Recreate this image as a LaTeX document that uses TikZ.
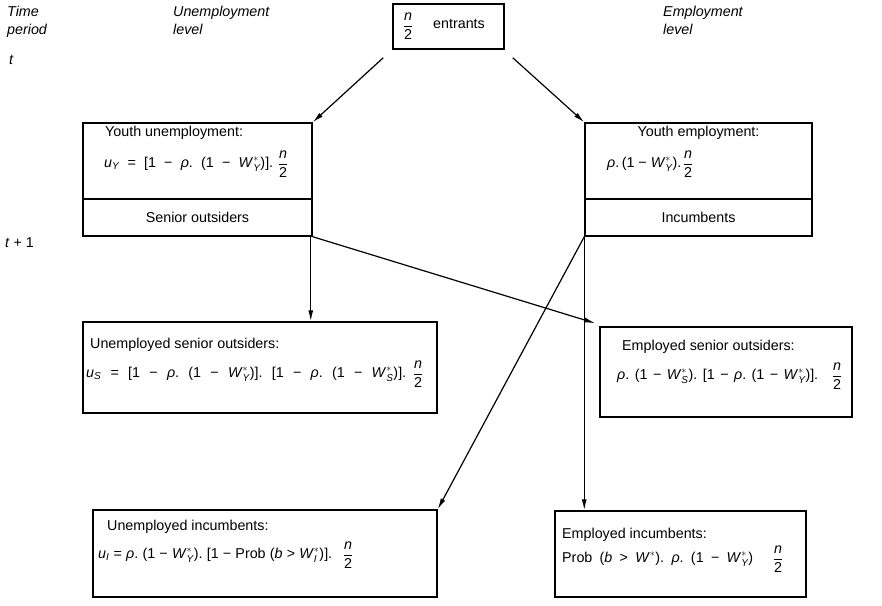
\documentclass[tikz,border=0pt]{standalone}
\usepackage{fontspec}
\setmainfont{Liberation Sans}
\usepackage{amsmath}
\usetikzlibrary{arrows.meta,calc}
\frenchspacing
\newcommand{\vi}[1]{\text{\itshape #1}}
\newcommand{\hf}{$\dfrac{\vi{n}}{\text{2}}$}
\newcommand{\Ws}[1]{\textit{W}$^{*}_{\vi{#1}}$}
\newcommand{\spread}[2]{\makebox[#1pt][s]{#2}}
\begin{document}
\begin{tikzpicture}[x=1pt,y=-1pt,
  font=\fontsize{14.3}{16}\selectfont\frenchspacing,
  box/.style={draw, line width=1.5pt, inner sep=0pt},
  txt/.style={inner sep=0pt, anchor=west},
  ctxt/.style={inner sep=0pt},
  lab/.style={inner sep=0pt, anchor=west, align=left, font=\fontsize{14.3}{18}\selectfont\itshape},
  conn/.style={line width=1.2pt, -{Latex[length=11pt,width=5pt]}}]
\useasboundingbox (0,0) rectangle (882,605);

% column labels
\node[lab, anchor=north west] (tp) at (7,6) {Time\\period};
\node[lab] (t0) at (9,60) {t};
\node[lab, anchor=north west] (ul) at (173,6) {Unemployment\\level};
\node[lab, anchor=north west] (el) at (663,6) {Employment\\level};
\node[lab, font=\fontsize{14.3}{16}\selectfont] (t1) at (5,243) {\textit{t} + 1};

% boxes
\node[box, minimum width=111pt, minimum height=45pt] (ent) at (448.5,26.5) {};
\node[box, minimum width=229pt, minimum height=76pt] (yu) at (197.5,161) {};
\node[box, minimum width=229pt, minimum height=37pt] (so) at (197.5,217.5) {};
\node[box, minimum width=227pt, minimum height=76pt] (ye) at (698.5,161) {};
\node[box, minimum width=227pt, minimum height=37pt] (inc) at (698.5,217.5) {};
\node[box, minimum width=354pt, minimum height=91pt] (uso) at (260,367.5) {};
\node[box, minimum width=252pt, minimum height=90pt] (eso) at (726,372) {};
\node[box, minimum width=344pt, minimum height=87pt] (ui) at (265,553.5) {};
\node[box, minimum width=251pt, minimum height=86pt] (ei) at (680.5,554) {};

% texts
\node[ctxt] (entF) at (408,26) {\hf};
\node[ctxt] (entT) at (459,24) {entrants};

\node[txt] (yuA) at (105,133) {Youth unemployment:};
\node[txt] (yuB) at (104,164) {\spread{169}{\textit{u}$_{\vi{Y}}$ = [1 − \textit{ρ}. (1 − \Ws{Y})].}};
\node[ctxt] (yuF) at (283,164) {\hf};
\node[ctxt] (soT) at (so.center) {Senior outsiders};

\node[ctxt] (yeA) at (698.5,133) {Youth employment:};
\node[txt] (yeB) at (607,164) {\textit{ρ}.\,(1 − \Ws{Y}).};
\node[ctxt] (yeF) at (688,164) {\hf};
\node[ctxt] (incT) at (inc.center) {Incumbents};

\node[txt] (usoA) at (90,345) {Unemployed senior outsiders:};
\node[txt] (usoB) at (86,374) {\spread{320}{\textit{u}$_{\vi{S}}$ = [1 − \textit{ρ}. (1 − \Ws{Y})]. [1 − \textit{ρ}. (1 − \Ws{S})].}};
\node[ctxt] (usoF) at (418,374) {\hf};

\node[txt] (esoA) at (622,347) {Employed senior outsiders:};
\node[txt] (esoB) at (617,376) {\spread{201}{\textit{ρ}. (1 − \Ws{S}). [1 − \textit{ρ}. (1 − \Ws{Y})].}};
\node[ctxt] (esoF) at (837,376) {\hf};

\node[txt] (uiA) at (107,527) {Unemployed incumbents:};
\node[txt] (uiB) at (98,555) {\spread{234}{\textit{u}$_{\vi{I}}$ = \textit{ρ}. (1 − \Ws{Y}). [1 − Prob (\textit{b} > \Ws{I})].}};
\node[ctxt] (uiF) at (348,555) {\hf};

\node[txt] (eiA) at (562,535) {Employed incumbents:};
\node[txt] (eiB) at (562,559) {\spread{191}{Prob (\textit{b} > \textit{W}$^{*}$). \textit{ρ}. (1 − \Ws{Y})}};
\node[ctxt] (eiF) at (778,559) {\hf};

% connectors
\coordinate (entL) at ($(ent.south west)+(-9,8)$);
\coordinate (entR) at ($(ent.south east)+(8,8)$);
\draw[conn] (entL) -- (yu.north east);
\draw[conn] (entR) -- (ye.north west);
\coordinate (vL) at ($(so.south east)+(-2,0)$);
\draw[conn] (so.south east) -- ($(eso.north west)+(-4,-3)$);
\draw[conn] (vL) -- (vL |- uso.north);
\draw[conn] (inc.south west) -- (ui.north east);
\draw[conn] (inc.south west) -- (inc.south west |- ei.north);
\end{tikzpicture}
\end{document}
